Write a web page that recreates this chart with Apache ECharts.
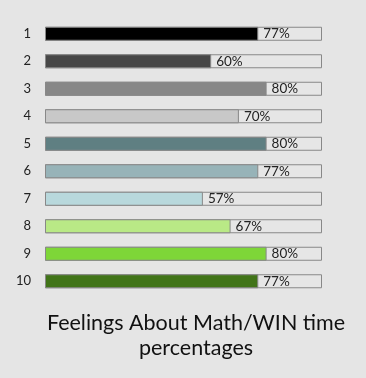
<!DOCTYPE html>
<html>
<head>
<meta charset="utf-8">
<script src="https://cdn.jsdelivr.net/npm/echarts@6/dist/echarts.min.js"></script>
<style>
html,body{margin:0;padding:0;background:#e5e5e5;}
#chart{width:366px;height:378px;}
</style>
</head>
<body>
<div id="chart"></div>
<script>
const categories = ['1','2','3','4','5','6','7','8','9','10'];
const values = [77, 60, 80, 70, 80, 77, 57, 67, 80, 77];
const barColors = ['#000000','#474747','#878787','#c8c8c8','#5f7f82','#97b3b8','#b8d8dc','#b9e986','#7ed638','#417418'];
const fullScale = [100,100,100,100,100,100,100,100,100,100];
const titleText = 'Feelings About Math/WIN time\npercentages';

const chart = echarts.init(document.getElementById('chart'), null, {renderer:'canvas'});
chart.setOption({
  backgroundColor: '#e5e5e5',
  animation: false,
  title: {
    text: titleText,
    left: 191,
    textAlign: 'center',
    top: 306,
    textStyle: {fontFamily: 'Lato', fontSize: 21.5, fontWeight: 'normal', color: '#111', lineHeight: 25}
  },
  grid: {left: 45, right: 44, top: 20, bottom: 83},
  xAxis: {type: 'value', min: 0, max: 100, show: false},
  yAxis: {
    type: 'category', data: categories, inverse: true,
    axisLine: {show: false}, axisTick: {show: false},
    axisLabel: {margin: 14, fontFamily: 'Lato', fontSize: 13, color: '#222'}
  },
  series: [
    {
      type: 'bar', data: fullScale, barWidth: 14, barGap: '-100%', silent: true,
      itemStyle: {color: '#e6e6e6', borderColor: '#888', borderWidth: 1},
      z: 1
    },
    {
      type: 'bar', barWidth: 14,
      data: values.map((v, i) => ({value: v, itemStyle: {color: barColors[i]}})),
      itemStyle: {borderColor: '#888', borderWidth: 1},
      label: {show: true, position: 'right', distance: 5, formatter: '{c}%', fontFamily: 'Lato', fontSize: 13.5, color: '#222'},
      z: 2
    }
  ]
});
</script>
</body>
</html>
